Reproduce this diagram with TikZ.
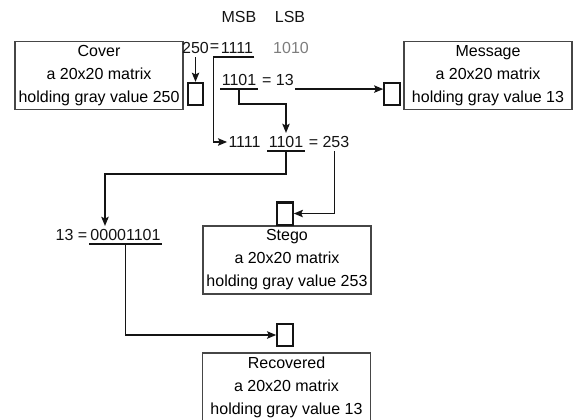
\documentclass[tikz,border=0pt]{standalone}
\usepackage{fontspec}
\setmainfont{Liberation Sans}
\usepackage{xcolor}
\definecolor{BoxGray}  {RGB}{70,  70,  70}
\definecolor{LsbGray}  {RGB}{125, 125, 125}
\definecolor{InkBlack} {RGB}{20,  20,  20}
\usepackage{tikz}
\usetikzlibrary{
  arrows.meta,
  positioning
}

\begin{document}
\begin{tikzpicture}[
  font=\fontsize{8}{11.5}\selectfont,
  matrixbox/.style={
    draw=BoxGray, line width=0.8pt,
    align=center, inner sep=1pt,
    minimum width=2.95cm,
    minimum height=1.2cm
  },
  cell/.style={
    draw=InkBlack, line width=1.1pt,
    minimum width=0.27cm,
    minimum height=0.39cm,
    inner sep=0pt
  },
  bits/.style={
    inner xsep=0.5pt, inner ysep=1.5pt,
    text=InkBlack
  },
  arrow/.style={
    -{Stealth[length=1.6mm, width=1.3mm, inset=0.3mm]},
    line width=0.7pt, InkBlack},
  uline/.style={
    line width=0.7pt, InkBlack}
]

\useasboundingbox (0,0) rectangle (10.087,-7.363);

\node[matrixbox] (cover) at (1.740,-1.327)
  {Cover\\a 20x20 matrix\\holding gray value 250};
\node[matrixbox] (message) at (8.576,-1.327)
  {Message\\a 20x20 matrix\\holding gray value 13};
\node[matrixbox] (stego) at (5.043,-4.569)
  {Stego\\a 20x20 matrix\\holding gray value 253};
\node[matrixbox] (recovered) at (5.035,-6.801)
  {Recovered\\a 20x20 matrix\\holding gray value 13};

\node[cell] (covercell) at (3.436,-1.652) {};
\node[cell] (msgcell)   at (6.889,-1.652) {};
\node[cell] (stegocell) at (5.008,-3.752) {};
\node[cell] (reccell)   at (5.008,-5.887) {};

\node[bits] (msb) at (4.200,-0.299) {MSB};
\node[bits] (lsb) at (5.096,-0.299) {LSB};

\node[bits] (n250)   at (3.436,-0.844) {250};
\node[bits] (hieq)   at (3.769,-0.844) {=};
\node[bits] (hi1111) at (4.165,-0.844) {1111};
\node[bits, text=LsbGray] (hi1010) at (5.114,-0.844) {1010};

\node[bits] (m1101) at (4.200,-1.406) {1101};
\node[bits] (eq13)  at (4.885,-1.406) {= 13};

\node[bits] (lo1111) at (4.297,-2.495) {1111};
\node[bits] (lo1101) at (5.026,-2.495) {1101};
\node[bits] (eq253)  at (5.782,-2.495) {= 253};

\node[bits] (lhs13) at (1.256,-4.130) {13 =};
\node[bits] (bin13) at (2.205,-4.130) {00001101};

\draw[uline] (m1101.south west) -- (m1101.south east);
\draw[uline] (lo1101.south west) -- (lo1101.south east);
\draw[uline] (bin13.south west) -- (bin13.south east);

\draw[arrow] (n250.south) -- (n250.south |- covercell.north);
\draw[arrow] (hi1111.south east) -- ++(-0.72,0)
  |- (lo1111.west);
\draw[arrow] (m1101.south) -- ++(0,-0.26)
  -| (lo1101.north);
\draw[arrow] (eq13.south east) --
  (eq13.south east -| msgcell.west);
\draw[arrow] (lo1101.south) -- ++(0,-0.40)
  -| ([xshift=-0.36cm]bin13.north);
\draw[arrow] ([xshift=0.1cm]eq253.south)
  |- (stegocell.east);
\draw[arrow] (bin13.south) |- (reccell.west);

\end{tikzpicture}
\end{document}
